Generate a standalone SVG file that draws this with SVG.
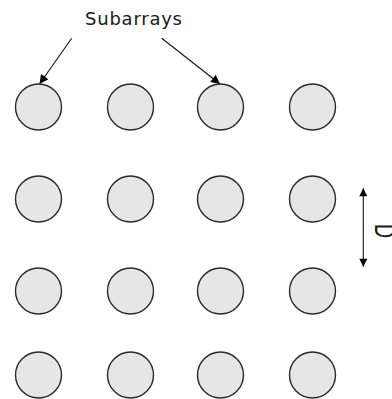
<svg xmlns="http://www.w3.org/2000/svg" width="392" height="399" viewBox="0 0 392 399">
<style>
.sub{fill:#e6e6e6;stroke:#2a2a2a;stroke-width:1.4}
.lbl{font-family:"DejaVu Sans","Liberation Sans",Arial,sans-serif;font-size:18px;fill:#1a1a1a}
.dim{font-family:"Liberation Sans",Arial,sans-serif;font-size:30px;fill:#1a1a1a}
.con{stroke:#111;stroke-width:1.1;fill:none}
</style>
<defs>
<marker id="ah" viewBox="0 0 10 10" refX="10" refY="5" markerWidth="10" markerHeight="9" markerUnits="userSpaceOnUse" orient="auto-start-reverse">
<path d="M0,0 L10,5 L0,10 Z" fill="#000"/>
</marker>
<marker id="ah2" viewBox="0 0 10 10" refX="10" refY="5" markerWidth="11" markerHeight="8" markerUnits="userSpaceOnUse" orient="auto-start-reverse">
<path d="M0,0 L10,5 L0,10 Z" fill="#000"/>
</marker>
</defs>
<g id="label-subarrays"><text class="lbl" x="85" y="24.5" textLength="97" lengthAdjust="spacing">Subarrays</text></g>
<g id="label-d"><text class="dim" transform="translate(375,224) rotate(90) scale(0.65,1)">D</text></g>
<g id="connectors">
<line class="con" x1="71.7" y1="38.3" x2="39.5" y2="84" marker-end="url(#ah)"/>
<line class="con" x1="161.7" y1="38.3" x2="220" y2="84" marker-end="url(#ah)"/>
<line class="con" x1="363.3" y1="188.3" x2="363.3" y2="266.7" marker-start="url(#ah2)" marker-end="url(#ah2)"/>
</g>
<g id="s11"><circle class="sub" cx="38.5" cy="107" r="23"/></g>
<g id="s12"><circle class="sub" cx="130.5" cy="107" r="23"/></g>
<g id="s13"><circle class="sub" cx="220.5" cy="107" r="23"/></g>
<g id="s14"><circle class="sub" cx="312.5" cy="107" r="23"/></g>
<g id="s21"><circle class="sub" cx="38.5" cy="199" r="23"/></g>
<g id="s22"><circle class="sub" cx="130.5" cy="199" r="23"/></g>
<g id="s23"><circle class="sub" cx="220.5" cy="199" r="23"/></g>
<g id="s24"><circle class="sub" cx="312.5" cy="199" r="23"/></g>
<g id="s31"><circle class="sub" cx="38.5" cy="291" r="23"/></g>
<g id="s32"><circle class="sub" cx="130.5" cy="291" r="23"/></g>
<g id="s33"><circle class="sub" cx="220.5" cy="291" r="23"/></g>
<g id="s34"><circle class="sub" cx="312.5" cy="291" r="23"/></g>
<g id="s41"><circle class="sub" cx="38.5" cy="375" r="23"/></g>
<g id="s42"><circle class="sub" cx="130.5" cy="375" r="23"/></g>
<g id="s43"><circle class="sub" cx="220.5" cy="375" r="23"/></g>
<g id="s44"><circle class="sub" cx="312.5" cy="375" r="23"/></g>
</svg>
